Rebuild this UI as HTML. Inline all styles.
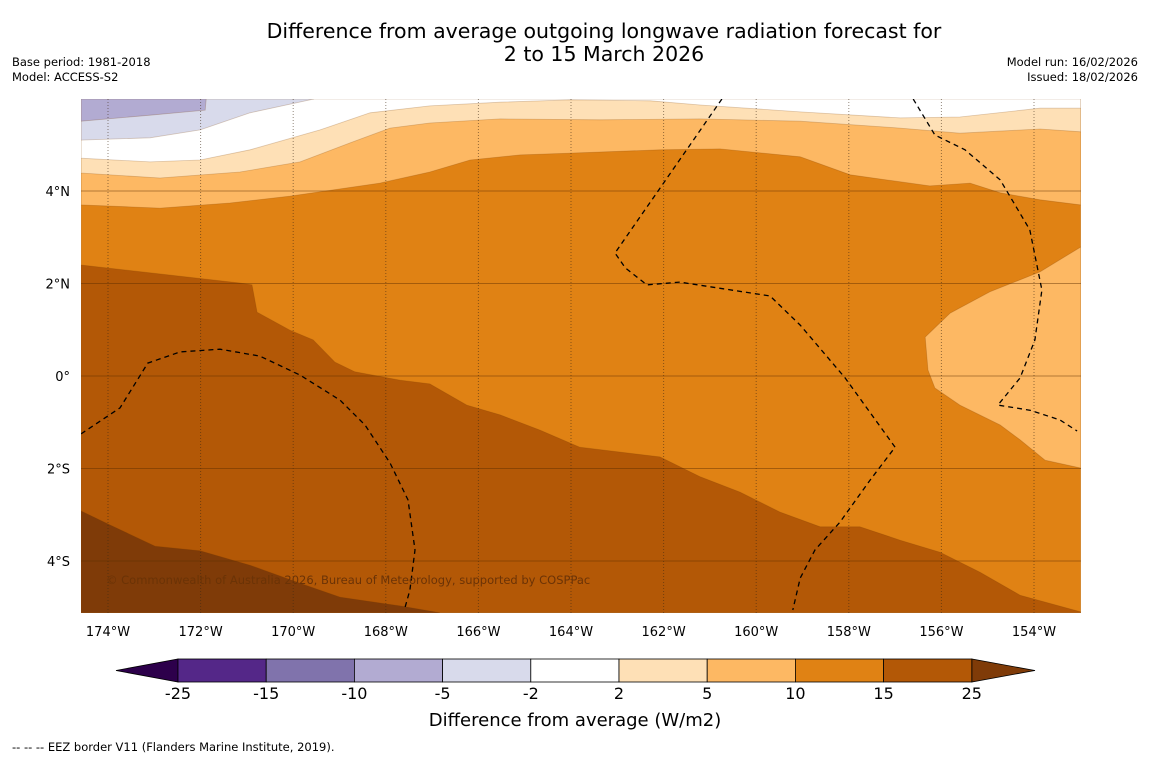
<!DOCTYPE html>
<html><head><meta charset="utf-8"><style>
html,body{margin:0;padding:0;background:#fff;width:1150px;height:758px;overflow:hidden;font-family:"DejaVu Sans","Liberation Sans",sans-serif;}
svg{display:block}
</style></head><body>
<svg id="chart" width="1150" height="758" viewBox="0 0 1150 758" xmlns="http://www.w3.org/2000/svg" font-family="DejaVu Sans, Liberation Sans, sans-serif">
<text x="604" y="38" text-anchor="middle" font-size="20.5">Difference from average outgoing longwave radiation forecast for</text>
<text x="604" y="61" text-anchor="middle" font-size="20.5">2 to 15 March 2026</text>
<text x="12" y="66" font-size="11.5">Base period: 1981-2018</text>
<text x="12" y="81" font-size="11.5">Model: ACCESS-S2</text>
<text x="1138" y="66" font-size="11.5" text-anchor="end">Model run: 16/02/2026</text>
<text x="1138" y="81" font-size="11.5" text-anchor="end">Issued: 18/02/2026</text>
<defs><clipPath id="mapclip"><rect x="81" y="99" width="1000" height="514"/></clipPath></defs>
<g id="map" clip-path="url(#mapclip)"></g>
<g id="grid"></g>
<g id="eez" clip-path="url(#mapclip)"></g>
<g id="axes"></g>
<text x="106" y="584" font-size="11.5" fill="#6b3306">© Commonwealth of Australia 2026, Bureau of Meteorology, supported by COSPPac</text>
<g id="cbar"></g>
<text x="575" y="726" text-anchor="middle" font-size="18">Difference from average (W/m2)</text>
<text x="12" y="751" font-size="11.5">--  --  -- EEZ border V11 (Flanders Marine Institute, 2019).</text>
</svg>
<script>
// ---- data ----
const lonTicks = [-174,-172,-170,-168,-166,-164,-162,-160,-158,-156,-154];
const lonTickLabels = ["174°W","172°W","170°W","168°W","166°W","164°W","162°W","160°W","158°W","156°W","154°W"];
const latTicks = [4,2,0,-2,-4];
const latTickLabels = ["4°N","2°N","0°","2°S","4°S"];
const levelBounds = [-25,-15,-10,-5,-2,2,5,10,15,25];
const levelColors = ["#542788","#8073ac","#b2abd2","#d8daeb","#ffffff","#fee0b6","#fdb863","#e08214","#b35806"];
const underColor = "#2d004b", overColor = "#7f3b08";
// contour regions (lon/lat), drawn in order
const regionLevels = [7, 8, 9, 6, 6, 5, 4, 3, 2];
const regionLons = [
 [-174.58,-152.99,-152.99,-174.58],
 [-174.58,-171.15,-170.89,-170.78,-170.07,-169.57,-169.10,-168.67,-167.69,-167.05,-166.25,-165.53,-164.67,-163.81,-162.08,-161.21,-160.35,-159.49,-158.62,-157.76,-156.89,-156.03,-155.17,-154.30,-152.99,-152.99,-174.58],
 [-174.58,-173.96,-172.98,-172.01,-170.93,-169.85,-168.99,-167.69,-166.83,-174.58],
 [-152.99,-153.87,-154.95,-155.81,-156.35,-156.29,-156.14,-155.60,-154.73,-154.30,-153.76,-152.99],
 [-174.58,-172.88,-171.37,-170.07,-168.13,-167.05,-166.18,-165.10,-164.02,-162.08,-160.78,-159.05,-157.97,-156.25,-155.38,-154.73,-153.87,-152.99,-152.99,-174.58],
 [-174.58,-172.88,-171.15,-169.85,-168.77,-167.91,-167.05,-165.53,-163.37,-161.21,-159.05,-156.89,-155.60,-153.87,-152.99,-152.99,-174.58],
 [-174.58,-173.09,-172.01,-170.93,-169.42,-168.34,-167.05,-165.53,-164.02,-162.29,-161.21,-159.05,-156.89,-155.60,-153.87,-152.99,-152.99,-174.58],
 [-174.58,-173.09,-172.01,-170.93,-169.55,-174.58],
 [-174.58,-173.09,-171.90,-171.88,-174.58]
];
const regionLats = [
 [5.99,5.99,-5.12,-5.12],
 [2.40,2.01,1.97,1.38,0.99,0.78,0.30,0.09,-0.09,-0.17,-0.63,-0.84,-1.17,-1.54,-1.75,-2.18,-2.51,-2.94,-3.26,-3.26,-3.55,-3.81,-4.24,-4.74,-5.10,-5.12,-5.12],
 [-2.92,-3.22,-3.68,-3.78,-4.09,-4.48,-4.78,-4.97,-5.12,-5.12],
 [2.79,2.25,1.82,1.36,0.84,0.13,-0.26,-0.63,-1.06,-1.38,-1.82,-1.99],
 [3.70,3.63,3.74,3.89,4.17,4.41,4.67,4.78,4.82,4.89,4.91,4.74,4.35,4.11,4.17,3.96,3.81,3.70,5.99,5.99],
 [4.39,4.28,4.41,4.63,5.04,5.36,5.47,5.56,5.54,5.56,5.51,5.36,5.25,5.34,5.28,5.99,5.99],
 [4.71,4.63,4.67,4.89,5.32,5.69,5.84,5.92,5.97,5.95,5.86,5.71,5.58,5.60,5.79,5.79,5.99,5.99],
 [5.10,5.15,5.32,5.69,5.99,5.99],
 [5.51,5.64,5.75,5.99,5.99]
];
// EEZ dashed borders
const eezLons = [
 [-160.74,-163.05,-162.83,-162.36,-161.65,-159.70,-159.05,-158.08,-157.00,-157.54,-158.19,-158.73,-159.05,-159.21],
 [-156.61,-156.14,-155.49,-154.73,-154.09,-153.83,-153.98,-154.30,-154.78,-154.09,-153.44,-153.07],
 [-174.58,-173.74,-173.14,-172.44,-171.58,-170.72,-169.85,-168.99,-168.45,-167.91,-167.52,-167.37,-167.48,-167.59]
];
const eezLats = [
 [5.99,2.66,2.34,1.97,2.03,1.73,1.10,-0.04,-1.54,-2.25,-3.16,-3.76,-4.37,-5.06],
 [5.99,5.21,4.89,4.24,3.16,1.86,0.78,-0.04,-0.63,-0.74,-0.95,-1.19],
 [-1.25,-0.69,0.28,0.52,0.58,0.43,0.02,-0.52,-1.06,-1.88,-2.68,-3.76,-4.63,-5.02]
];
// ---- axes ----
const X0=108, PXLON=46.3, Y0=376, PXLAT=46.25;
function xs(lon){return X0+(lon+174)*PXLON;}
function ys(lat){return Y0-lat*PXLAT;}
const NS="http://www.w3.org/2000/svg";
function mk(tag,attrs,parent){const e=document.createElementNS(NS,tag);for(const k in attrs)e.setAttribute(k,attrs[k]);parent.appendChild(e);return e;}
const map=document.getElementById('map');
for(let r=0;r<regionLons.length;r++){
  const lv=regionLevels[r];
  const col= lv>=levelColors.length?overColor:levelColors[lv];
  const pts=regionLons[r].map((lo,i)=>xs(lo).toFixed(1)+','+ys(regionLats[r][i]).toFixed(1)).join(' ');
  const p=mk('polygon',{points:pts,fill:col,stroke:'rgba(120,60,0,0.25)','stroke-width':0.8},map);
  
  
}
const grid=document.getElementById('grid');
lonTicks.forEach((lo,i)=>{
  const l=mk('line',{x1:xs(lo),x2:xs(lo),y1:99,y2:613,stroke:'rgba(60,40,20,0.55)','stroke-width':1,'stroke-dasharray':'1,2'},grid);
  
  
});
latTicks.forEach((la,i)=>{
  const l=mk('line',{x1:81,x2:1081,y1:ys(la),y2:ys(la),stroke:'rgba(90,45,0,0.45)','stroke-width':1},grid);
  
  
});
const eez=document.getElementById('eez');
eezLons.forEach((arr,k)=>{
  const pts=arr.map((lo,i)=>xs(lo).toFixed(1)+','+ys(eezLats[k][i]).toFixed(1)).join(' ');
  const p=mk('polyline',{points:pts,fill:'none',stroke:'#000','stroke-width':1.3,'stroke-dasharray':'5,4'},eez);
  
  
});
const axes=document.getElementById('axes');
lonTicks.forEach((lo,i)=>{
  const t=mk('text',{x:xs(lo),y:636,'text-anchor':'middle','font-size':13},axes);
  t.textContent=lonTickLabels[i];
  
  
});
latTicks.forEach((la,i)=>{
  const t=mk('text',{x:70,y:ys(la)+5,'text-anchor':'end','font-size':13},axes);
  t.textContent=latTickLabels[i];
  
  
});
// colorbar
const cb=document.getElementById('cbar');
const cbX0=178, cbW=88.2, cbY=659, cbH=23;
const tl=mk('polygon',{points:`${cbX0},${cbY} ${cbX0},${cbY+cbH} 116,${cbY+cbH/2}`,fill:underColor,stroke:'#000','stroke-width':0.8},cb);


const xe=cbX0+cbW*levelColors.length;
const tr=mk('polygon',{points:`${xe},${cbY} ${xe},${cbY+cbH} 1035,${cbY+cbH/2}`,fill:overColor,stroke:'#000','stroke-width':0.8},cb);


levelColors.forEach((c,i)=>{
  const r=mk('rect',{x:cbX0+i*cbW,y:cbY,width:cbW,height:cbH,fill:c,stroke:'#000','stroke-width':0.8},cb);
  
  
});
levelBounds.forEach((v,i)=>{
  const t=mk('text',{x:cbX0+i*cbW,y:699,'text-anchor':'middle','font-size':16},cb);
  t.textContent=String(v);
  
  
});
</script>
</body></html>
